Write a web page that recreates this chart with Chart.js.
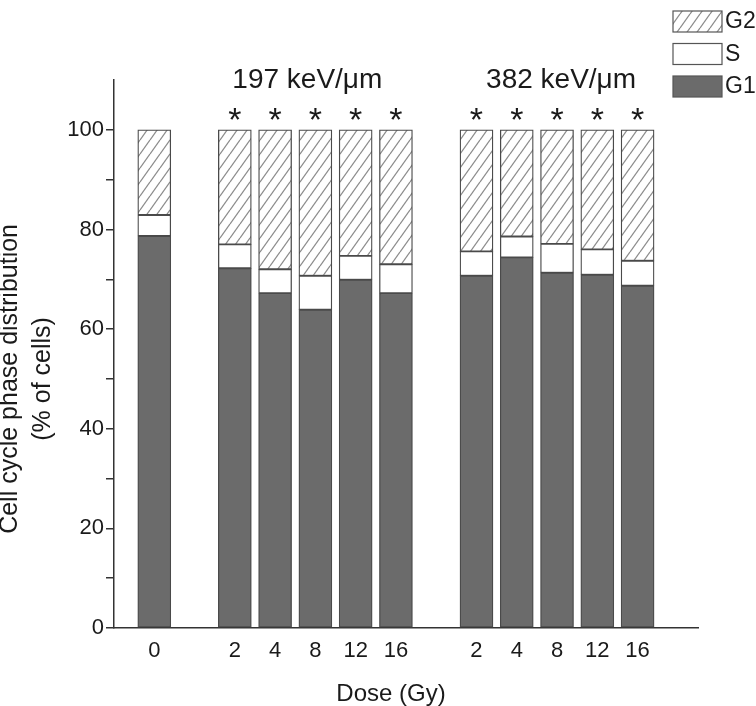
<!DOCTYPE html>
<html>
<head>
<meta charset="utf-8">
<script src="https://cdn.jsdelivr.net/npm/chart.js@4/dist/chart.umd.min.js"></script>
<style>
  html, body { margin: 0; padding: 0; background: #fff; }
  #caja { width: 756px; height: 706px; position: relative; }
</style>
</head>
<body>
<div id="caja"><canvas id="grafica"></canvas></div>
<script>
// Dosis (Gy) en cada barra y su posición en el eje (con huecos entre grupos)
const doseLabels = ['0', '2', '4', '8', '12', '16', '2', '4', '8', '12', '16'];
const slotPos = [0, 2, 3, 4, 5, 6, 8, 9, 10, 11, 12];

// Distribución de fases (% de células)
const g1Values = [78.7, 72.2, 67.2, 63.9, 69.9, 67.2, 70.7, 74.4, 71.3, 70.9, 68.7];
const sValues = [4.2, 4.8, 4.8, 6.8, 4.8, 5.8, 4.9, 4.2, 5.8, 5.1, 5.0];
const g2Values = [17.1, 23.0, 28.0, 29.3, 25.3, 27.0, 24.4, 21.4, 22.9, 24.0, 26.3];

// Diferencia significativa (*)
const significant = [false, true, true, true, true, true, true, true, true, true, true];

// Etiquetas de grupo y donde van en el eje x
const groupLabels = ['197 keV/\u03bcm', '382 keV/\u03bcm'];
const groupLabelPos = [3.8, 10.1];

const yTickLabels = [0, 20, 40, 60, 80, 100];

const fuente = '"Liberation Sans", Arial, sans-serif';
const colorTexto = '#1a1a1a';
const colorG1 = '#6b6b6b';
const colorBorde = '#4a4a4a';

// Patrón rayado para G2
function crearRayado() {
  const w = 10, h = 14;
  const c = document.createElement('canvas');
  c.width = w; c.height = h;
  const cx = c.getContext('2d');
  cx.fillStyle = '#fff';
  cx.fillRect(0, 0, w, h);
  cx.strokeStyle = '#8c8c8c';
  cx.lineWidth = 1.3;
  [-w, 0, w].forEach(dx => {
    cx.beginPath();
    cx.moveTo(dx, h);
    cx.lineTo(dx + w, 0);
    cx.stroke();
  });
  return cx.createPattern(c, 'repeat');
}
const rayado = crearRayado();

function puntos(valores) {
  return valores.map((v, i) => ({ x: slotPos[i], y: v }));
}

const leyenda = [
  { nombre: 'G2', fondo: rayado },
  { nombre: 'S', fondo: '#fff' },
  { nombre: 'G1', fondo: colorG1 }
];

// Textos extra: grupos, asteriscos, leyenda y títulos de ejes
const extras = {
  id: 'extras',
  afterDraw(chart) {
    const ctx = chart.ctx;
    const xs = chart.scales.x;
    const ys = chart.scales.y;
    ctx.save();
    ctx.fillStyle = colorTexto;

    ctx.font = '28px ' + fuente;
    ctx.textAlign = 'center';
    ctx.textBaseline = 'alphabetic';
    groupLabels.forEach((t, i) => {
      ctx.fillText(t, xs.getPixelForValue(groupLabelPos[i]), 88);
    });

    ctx.font = '34px ' + fuente;
    significant.forEach((sig, i) => {
      if (sig) ctx.fillText('*', xs.getPixelForValue(slotPos[i]), ys.getPixelForValue(100) + 1);
    });

    // leyenda
    ctx.font = '23px ' + fuente;
    ctx.textAlign = 'left';
    ctx.textBaseline = 'middle';
    leyenda.forEach((item, i) => {
      const y0 = 11 + i * 32.5;
      ctx.fillStyle = item.fondo;
      ctx.fillRect(673, y0, 49, 21);
      ctx.strokeStyle = '#555';
      ctx.lineWidth = 1.2;
      ctx.strokeRect(673, y0, 49, 21);
      ctx.fillStyle = colorTexto;
      ctx.fillText(item.nombre, 725, y0 + 11);
    });

    // título eje x
    ctx.font = '24px ' + fuente;
    ctx.textAlign = 'center';
    ctx.textBaseline = 'alphabetic';
    ctx.fillText('Dose (Gy)', 391, 701);

    // título eje y (dos líneas)
    ctx.font = '25px ' + fuente;
    const yc = (ys.getPixelForValue(0) + ys.getPixelForValue(100)) / 2;
    ctx.translate(0, yc);
    ctx.rotate(-Math.PI / 2);
    ctx.fillText('Cell cycle phase distribution', 0, 17);
    ctx.fillText('(% of cells)', 0, 50);
    ctx.restore();
  }
};

const serie = (label, valores, fondo) => ({
  label: label,
  data: puntos(valores),
  backgroundColor: fondo,
  borderColor: colorBorde,
  borderWidth: 1.3,
  borderSkipped: false,
  barThickness: 33
});

new Chart(document.getElementById('grafica'), {
  type: 'bar',
  data: {
    datasets: [
      serie('G1', g1Values, colorG1),
      serie('S', sValues, '#ffffff'),
      serie('G2', g2Values, rayado)
    ]
  },
  options: {
    responsive: true,
    maintainAspectRatio: false,
    animation: false,
    layout: { padding: { top: 80, right: 58, left: 0, bottom: 0 } },
    plugins: {
      legend: { display: false },
      tooltip: { enabled: false }
    },
    scales: {
      x: {
        type: 'linear',
        stacked: true,
        offset: false,
        min: -1,
        max: 13.5,
        afterFit(scale) { scale.height = 78; },
        grid: { display: true, drawOnChartArea: false, drawTicks: false, offset: false },
        border: { color: '#333', width: 1.5 },
        ticks: {
          stepSize: 1,
          autoSkip: false,
          maxRotation: 0,
          padding: 10,
          color: colorTexto,
          font: { family: fuente, size: 22 },
          callback: v => {
            const i = slotPos.indexOf(v);
            return i === -1 ? '' : doseLabels[i];
          }
        }
      },
      y: {
        stacked: true,
        min: 0,
        max: 110,
        afterFit(scale) { scale.width = 114; },
        grid: {
          drawOnChartArea: false,
          tickLength: 8,
          lineWidth: 1.5,
          color: c => (c.tick && c.tick.value === 110) ? 'rgba(0,0,0,0)' : '#333'
        },
        border: { color: '#333', width: 1.5 },
        ticks: {
          stepSize: 10,
          padding: 2,
          color: colorTexto,
          font: { family: fuente, size: 22 },
          callback: v => yTickLabels.includes(v) ? String(v) : ''
        }
      }
    }
  },
  plugins: [extras]
});
</script>
</body>
</html>
